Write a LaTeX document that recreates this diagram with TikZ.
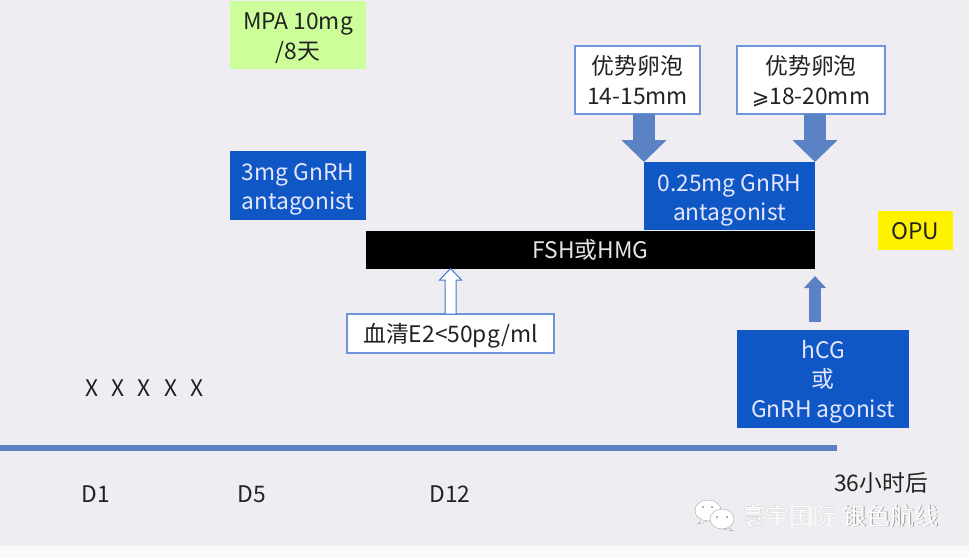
\documentclass[tikz,border=0pt]{standalone}
\usepackage{fontspec}
\setmainfont{Noto Sans CJK SC}[BoldFont={Noto Sans CJK SC}]
\newfontfamily\symfont{DejaVu Sans}
\usetikzlibrary{arrows.meta,calc}
\definecolor{bgc}{HTML}{EFEDF1}
\definecolor{bluebox}{HTML}{0E57C4}
\definecolor{steel}{HTML}{5B82C4}
\definecolor{edgeb}{HTML}{6D95DC}
\definecolor{lime}{HTML}{CCFF99}
\definecolor{inkc}{HTML}{222222}
\newcommand{\lowertext}[2]{\raisebox{-#1}[\height][\depth]{\begin{tabular}{@{}c@{}}#2\end{tabular}}}
\tikzset{
  x=1pt,y=-1pt,
  base/.style={inner sep=0pt,outer sep=0pt,align=center,font=\fontsize{22.8}{29.5}\selectfont,anchor=north west},
  bluenode/.style={base,fill=bluebox,text=white!90!blue},
  whitenode/.style={base,fill=white,draw=edgeb,line width=1.2pt,text=inkc},
  plain/.style={inner sep=0pt,font=\fontsize{22.8}{25}\selectfont,text=inkc},
  fat/.style={steel,line width=22pt,-{Triangle[length=22pt,width=44pt]}},
  wm/.style={inner sep=0pt,font=\fontsize{24}{28}\selectfont,text=white,anchor=west},
}
\begin{document}
\begin{tikzpicture}
\useasboundingbox (0,0) rectangle (969,558);
\fill[bgc] (0,0) rectangle (969,558);
\fill[white!70!bgc] (0,546) rectangle (969,558);
% boxes
\node[base,fill=lime,text=inkc,minimum width=136pt,minimum height=68pt] (mpa) at (230,1) {\lowertext{3.5pt}{MPA 10mg\\/8天}};
\node[bluenode,minimum width=136pt,minimum height=69pt] (gn3) at (230,151) {\lowertext{3.5pt}{3mg GnRH\\antagonist}};
\node[whitenode,minimum width=125pt,minimum height=68pt] (f1) at (575,46) {\lowertext{3.5pt}{优势卵泡\\14-15mm}};
\node[whitenode,minimum width=148pt,minimum height=68pt] (f2) at (737,46) {\lowertext{3.5pt}{优势卵泡\\{\symfont\fontsize{21}{29.5}\selectfont ⩾}18-20mm}};
\node[bluenode,minimum width=171pt,minimum height=68pt] (gn25) at (644,162) {\lowertext{4pt}{0.25mg GnRH\\antagonist}};
\node[base,fill=black,text=white!90!black,minimum width=449pt,minimum height=38.5pt] (fsh) at (366,230.5) {FSH或HMG};
\node[base,fill=yellow,text=inkc,minimum width=75.5pt,minimum height=39pt] (opu) at (877.5,211) {\lowertext{3pt}{OPU}};
\node[whitenode,minimum width=207pt,minimum height=39pt] (e2) at (347,314) {\lowertext{3.5pt}{血清E2<50pg/ml}};
\node[bluenode,minimum width=172pt,minimum height=98pt] (hcg) at (737,330) {\lowertext{3pt}{hCG\\或\\GnRH agonist}};
% block arrows
\coordinate (t1) at (gn25.north west);
\coordinate (t2) at (gn25.north east);
\draw[fat] (f1.south -| t1) -- (t1);
\draw[fat] (f2.south -| t2) -- (t2);
\draw[steel,line width=11.5pt,shorten <=8pt,shorten >=7pt,-{Triangle[length=12pt,width=21.5pt]}] (hcg.north -| fsh.south east) -- (fsh.south east);
\coordinate (t3) at (fsh.south -| e2.north);
\filldraw[fill=white,draw=bluebox!80!white,line width=1pt,line join=miter]
  ($(e2.north)+(-5.5,0)$) -- ($(t3)+(-5.5,11)$) -- ($(t3)+(-11,11)$) -- ($(t3)+(0,-.5)$)
  -- ($(t3)+(11,11)$) -- ($(t3)+(5.5,11)$) -- ($(e2.north)+(5.5,0)$) -- cycle;
% timeline
\fill[steel] (0,445) rectangle (837,451);
\node[plain] (xs) at (144.5,388) {X\hspace{13.2pt}X\hspace{13.2pt}X\hspace{13.2pt}X\hspace{13.2pt}X};
\node[plain] (d1) at (96,494) {D1};
\node[plain] (d5) at (252,494) {D5};
\node[plain] (d12) at (450,494) {D12};
\node[plain] (h36) at (881,483) {36小时后};
% watermark
\begin{scope}[fill=white,draw=gray!70,line width=.4pt]
\filldraw (703,518) -- (698,524) -- (708,521) -- cycle;
\filldraw (708,510.5) ellipse [x radius=13,y radius=10.5];
\filldraw (729,528) -- (733,531) -- (722,529) -- cycle;
\filldraw (722,519) ellipse [x radius=12,y radius=10];
\end{scope}
\foreach \p in {(703,507),(712,507),(717,517),(727,517)} \fill[gray] \p circle (1);
\node[wm,text=gray!80,xshift=.6pt,yshift=-.6pt] (wm0) at (741,516) {寰宇国际 银色航线};
\node[wm] (wm1) at (741,516) {寰宇国际 银色航线};
\end{tikzpicture}
\end{document}
